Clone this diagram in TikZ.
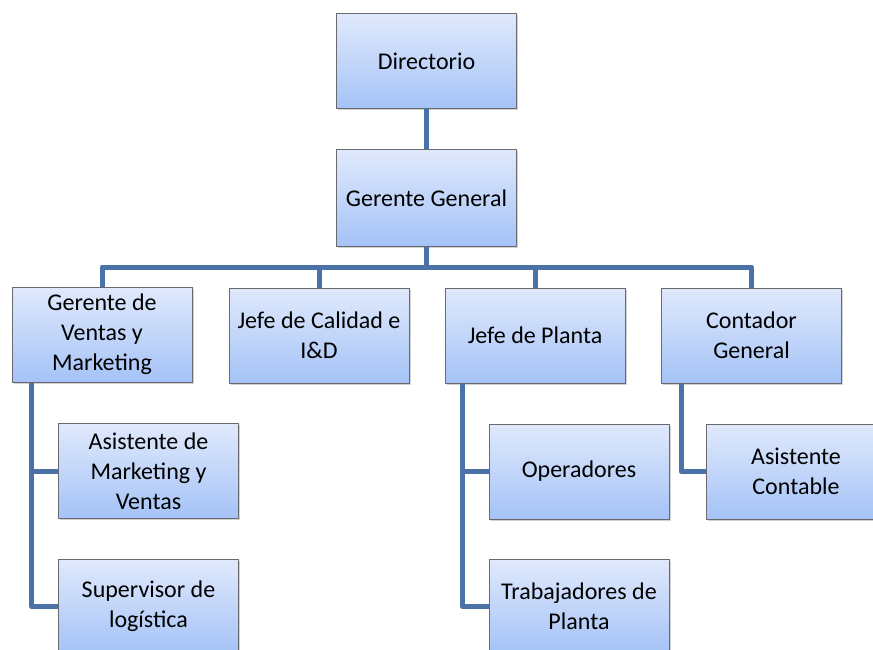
\documentclass[tikz,border=0pt]{standalone}
\usepackage{fontspec}
\setmainfont{Carlito}
\usetikzlibrary{shadows}
\definecolor{boxtop}{RGB}{224,233,252}
\definecolor{boxbot}{RGB}{164,195,247}
\definecolor{boxline}{RGB}{105,105,110}
\definecolor{conncol}{RGB}{74,114,166}
\begin{document}
\begin{tikzpicture}[x=1pt,y=-1pt,
  orgbox/.style={draw=boxline, line width=1pt, top color=boxtop, bottom color=boxbot,
    minimum width=180pt, minimum height=95pt, inner sep=0pt, align=center,
    font=\fontsize{24}{30}\selectfont,
    drop shadow={shadow xshift=1.5pt, shadow yshift=-1.5pt, opacity=0.35}},
  conn/.style={draw=conncol, line width=5pt, line join=round}]
\useasboundingbox (0,0) rectangle (873,650);
\fill[white] (0,0) rectangle (873,650);
\coordinate (bus) at (0,267);
\node[orgbox] (dir) at (426.5,61.5) {Directorio};
\node[orgbox, minimum height=96pt] (gg) at (426.5,198) {Gerente General};
\node[orgbox] (gv) at (102,334.5) {Gerente de\\Ventas y\\Marketing};
\node[orgbox] (jc) at (319,335.5) {Jefe de Calidad e\\I\&D};
\node[orgbox] (jp) at (535,335.5) {Jefe de Planta};
\node[orgbox] (cg) at (751.5,335.5) {Contador\\General};
\node[orgbox] (am) at (148.5,471) {Asistente de\\Marketing y\\Ventas};
\node[orgbox] (sl) at (148.5,606.5) {Supervisor de\\logística};
\node[orgbox] (op) at (579,471.5) {Operadores};
\node[orgbox] (tp) at (579,606.5) {Trabajadores de\\Planta};
\node[orgbox] (ac) at (796,471.5) {Asistente\\Contable};
\draw[conn] (dir.south) -- (gg.north);
\draw[conn] (gg.south) -- (gg.south |- bus);
\draw[conn] (gv.north) -- (gv.north |- bus) -| (cg.north);
\draw[conn] (jc.north) -- (jc.north |- bus);
\draw[conn] (jp.north) -- (jp.north |- bus);
\draw[conn] ([xshift=20pt]gv.south west) |- (am.west);
\draw[conn] ([xshift=20pt]gv.south west) |- (sl.west);
\draw[conn] ([xshift=18pt]jp.south west) |- (op.west);
\draw[conn] ([xshift=18pt]jp.south west) |- (tp.west);
\draw[conn] ([xshift=20pt]cg.south west) |- (ac.west);
\end{tikzpicture}
\end{document}
